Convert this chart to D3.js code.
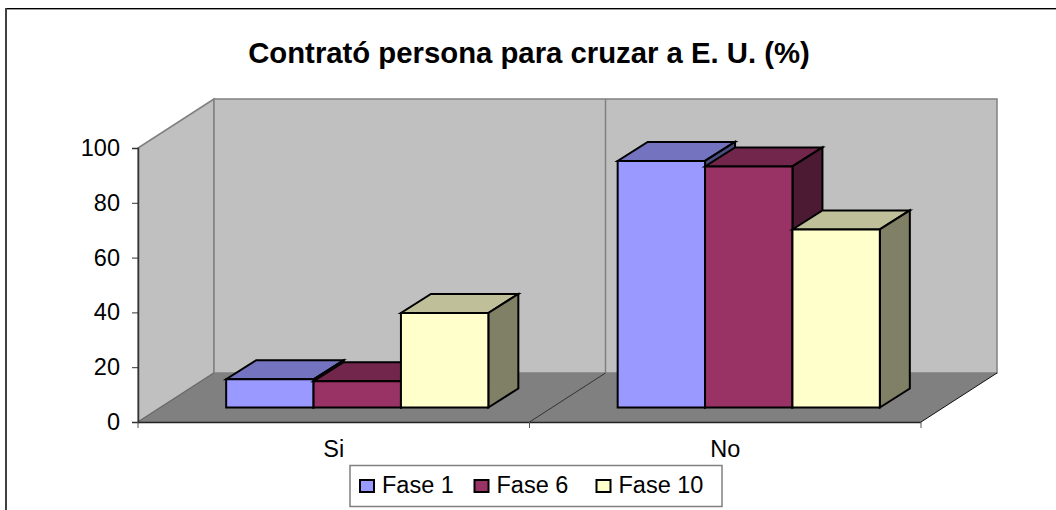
<!DOCTYPE html>
<html>
<head>
<meta charset="utf-8">
<script src="https://d3js.org/d3.v7.min.js"></script>
<style>
html, body { margin: 0; padding: 0; background: #fff; }
svg { display: block; }
text { font-family: "Liberation Sans", Arial, sans-serif; fill: #000; }
</style>
</head>
<body>
<div id="chart"></div>
<script>
var categories = ["Si", "No"];
var seriesNames = ["Fase 1", "Fase 6", "Fase 10"];
var fase1 = [10.3, 90];
var fase6 = [9.6, 88];
var fase10 = [34.5, 65];
var yTicks = [0, 20, 40, 60, 80, 100];
var chartTitle = "Contrató persona para cruzar a E. U. (%)";

var colors = {
    "Fase 1": { front: "#9999ff", top: "#7373bf", side: "#4c4c80" },
    "Fase 6": { front: "#993366", top: "#73264c", side: "#4d1a33" },
    "Fase 10": { front: "#ffffcc", top: "#bfbf99", side: "#808066" }
};

var width = 1056, height = 510;
var labelSize = "23.5px";
var seriesData = [fase1, fase6, fase10];

var svg = d3.select("#chart").append("svg").attr("width", width).attr("height", height);

// outer chart frame, only top and left fall inside the picture
svg.append("line").attr("x1", 5).attr("x2", width).attr("y1", 8.5).attr("y2", 8.5).attr("stroke", "#000");
svg.append("line").attr("x1", 7).attr("x2", width).attr("y1", 9.5).attr("y2", 9.5).attr("stroke", "#999");
svg.append("line").attr("x1", 6).attr("x2", 6).attr("y1", 8).attr("y2", height).attr("stroke", "#404040").attr("stroke-width", 2);

// 3d box: depth is a shift of the back plane
var depthX = 76, depthY = -49;
var barDepthX = 30, barDepthY = -19;
var barShiftX = 23.5, barShiftY = -14.5;

var y = d3.scaleLinear().domain([0, 100]).range([422, 148]);
var x0 = d3.scaleBand().domain(categories).range([138, 921]);
var x1 = d3.scaleBand().domain(seriesNames).range([0, x0.bandwidth()]).paddingInner(0).paddingOuter(0.74);

var poly = function(pts, fill, stroke, sw) {
    return svg.append("polygon")
        .attr("points", pts.map(function(p) { return p.join(","); }).join(" "))
        .attr("fill", fill).attr("stroke", stroke).attr("stroke-width", sw).attr("stroke-linejoin", "miter");
};

var xL = x0.range()[0], xR = x0.range()[1], y0 = y(0), yT = y(100);

/* walls and floor */
poly([[xL, y0], [xL + depthX, y0 + depthY], [xL + depthX, yT + depthY], [xL, yT]], "#c0c0c0", "#808080", 1.5);
poly([[xL + depthX, y0 + depthY], [xR + depthX, y0 + depthY], [xR + depthX, yT + depthY], [xL + depthX, yT + depthY]], "#c0c0c0", "#808080", 1.5);
poly([[xL, y0], [xR, y0], [xR + depthX, y0 + depthY], [xL + depthX, y0 + depthY]], "#808080", "none", 0);

// divider between the categories, on back wall and floor
var xMid = x0("No");
svg.append("line").attr("x1", xMid + depthX).attr("x2", xMid + depthX).attr("y1", yT + depthY).attr("y2", y0 + depthY)
    .attr("stroke", "#808080").attr("stroke-width", 1.5);
svg.append("line").attr("x1", xMid).attr("x2", xMid + depthX).attr("y1", y0).attr("y2", y0 + depthY)
    .attr("stroke", "#333").attr("stroke-width", 1);
svg.append("line").attr("x1", xR).attr("x2", xR + depthX).attr("y1", y0).attr("y2", y0 + depthY)
    .attr("stroke", "#111").attr("stroke-width", 1);
svg.append("line").attr("x1", xL).attr("x2", xL + depthX).attr("y1", y0).attr("y2", y0 + depthY)
    .attr("stroke", "#666").attr("stroke-width", 1);

/* bars */
seriesNames.forEach(function(name, si) {
    categories.forEach(function(cat, ci) {
        var left = x0(cat) + x1(name) + barShiftX;
        var right = left + x1.bandwidth();
        var base = y0 + barShiftY;
        var top = base - (y0 - y(seriesData[si][ci]));
        var c = colors[name];
        var dx = barDepthX, dy = barDepthY;
        poly([[left, top], [right, top], [right + dx, top + dy], [left + dx, top + dy]], c.top, "#000", 2);
        poly([[right, top], [right + dx, top + dy], [right + dx, base + dy], [right, base]], c.side, "#000", 2);
        poly([[left, top], [right, top], [right, base], [left, base]], c.front, "#000", 2);
    });
});

/* axes */
var yAxis = d3.axisLeft(y).tickValues(yTicks).tickSize(6).tickPadding(12);
var gy = svg.append("g").attr("transform", "translate(" + xL + ",0)").call(yAxis);
gy.select(".domain").attr("stroke", "#333").attr("stroke-width", 1.5);
gy.selectAll("line").attr("stroke", "#333").attr("stroke-width", 1);
gy.selectAll("text").style("font-size", labelSize).style("font-family", "Liberation Sans");

var xAxis = d3.axisBottom(x0).tickSize(0).tickPadding(18);
var gx = svg.append("g").attr("transform", "translate(0," + y0 + ")").call(xAxis);
gx.select(".domain").attr("d", "M" + xL + ",0.5H" + xR).attr("stroke", "#222").attr("stroke-width", 1.5);
gx.selectAll("text").style("font-size", labelSize).style("font-family", "Liberation Sans");
// axis ticks sit on the band edges, not the centres
x0.domain().concat(["end"]).forEach(function(c) {
    var xx = c === "end" ? xR : x0(c);
    gx.append("line").attr("x1", xx).attr("x2", xx).attr("y1", 0).attr("y2", 6).attr("stroke", "#555");
});

/* title */
svg.append("text").attr("x", 529).attr("y", 63).attr("text-anchor", "middle")
    .style("font-size", "29.3px").style("font-weight", "bold").text(chartTitle);

/* legend */
var legend = svg.append("g");
legend.append("rect").attr("x", 350).attr("y", 465.5).attr("width", 372).attr("height", 41)
    .attr("fill", "#fff").attr("stroke", "#808080").attr("stroke-width", 1.5);
var legendX = [360, 474.5, 596.5];
seriesNames.forEach(function(name, i) {
    legend.append("rect").attr("x", legendX[i]).attr("y", 480).attr("width", 14).attr("height", 12)
        .attr("fill", colors[name].front).attr("stroke", "#000").attr("stroke-width", 2);
    legend.append("text").attr("x", legendX[i] + 22).attr("y", 492.7)
        .style("font-size", labelSize).text(name);
});
</script>
</body>
</html>
